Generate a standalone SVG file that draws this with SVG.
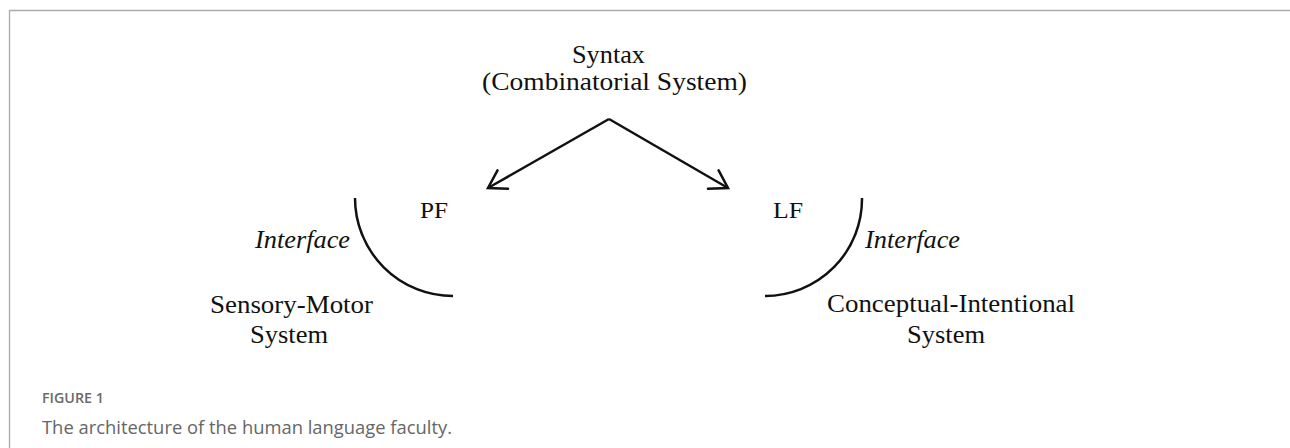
<svg xmlns="http://www.w3.org/2000/svg" width="1290" height="448" viewBox="0 0 1290 448">
<style>
.t{font-family:"Liberation Serif","Times New Roman",serif;font-size:25px;fill:#111}
.s{font-size:24px}
.i{font-style:italic}
.ln{fill:none;stroke:#111;stroke-width:2.5}
.cap1{font-family:"Open Sans","Liberation Sans",sans-serif;font-size:14px;font-weight:600;fill:#6a6a6a}
.cap2{font-family:"Open Sans","Liberation Sans",sans-serif;font-size:18.5px;fill:#666}
</style>
<defs>
<marker id="ah" markerUnits="userSpaceOnUse" orient="auto" markerWidth="40" markerHeight="40" refX="0" refY="0" viewBox="-25 -20 40 40" overflow="visible">
<path d="M-17,-10.6 L0,0 L-17,10.6" fill="none" stroke="#111" stroke-width="2.5" stroke-linejoin="miter" stroke-linecap="round"/>
</marker>
</defs>
<rect width="1290" height="448" fill="#fff"/>
<g id="frame" fill="none" stroke="#aaa" stroke-width="1.3">
<path d="M9.5,448 V10.5 H1290"/>
</g>
<g id="syntax">
<text class="t" x="608.5" y="63" text-anchor="middle" textLength="73" lengthAdjust="spacingAndGlyphs">Syntax</text>
<text class="t" x="614.5" y="90" text-anchor="middle" textLength="265" lengthAdjust="spacingAndGlyphs">(Combinatorial System)</text>
</g>
<g id="connectors">
<path class="ln" d="M609,119 L488,188" marker-end="url(#ah)"/>
<path class="ln" d="M609,119 L728,188" marker-end="url(#ah)"/>
</g>
<g id="pf">
<text class="t s" x="420" y="218" textLength="28" lengthAdjust="spacingAndGlyphs">PF</text>
<path class="ln" d="M355,198 A98,98 0 0,0 453,296"/>
<text class="t i" x="255" y="248" textLength="95" lengthAdjust="spacingAndGlyphs">Interface</text>
</g>
<g id="lf">
<text class="t s" x="773" y="218" textLength="30" lengthAdjust="spacingAndGlyphs">LF</text>
<path class="ln" d="M862,198 A97,97 0 0,1 765,296"/>
<text class="t i" x="865" y="248" textLength="95" lengthAdjust="spacingAndGlyphs">Interface</text>
</g>
<g id="sensory-motor">
<text class="t" x="210" y="313" textLength="163" lengthAdjust="spacingAndGlyphs">Sensory-Motor</text>
<text class="t" x="250" y="343" textLength="78" lengthAdjust="spacingAndGlyphs">System</text>
</g>
<g id="conceptual-intentional">
<text class="t" x="827" y="312" textLength="248" lengthAdjust="spacingAndGlyphs">Conceptual-Intentional</text>
<text class="t" x="907" y="343" textLength="78" lengthAdjust="spacingAndGlyphs">System</text>
</g>
<g id="caption">
<text class="cap1" x="42" y="403" textLength="62" lengthAdjust="spacingAndGlyphs">FIGURE 1</text>
<text class="cap2" x="42" y="434" textLength="410" lengthAdjust="spacingAndGlyphs">The architecture of the human language faculty.</text>
</g>
</svg>
